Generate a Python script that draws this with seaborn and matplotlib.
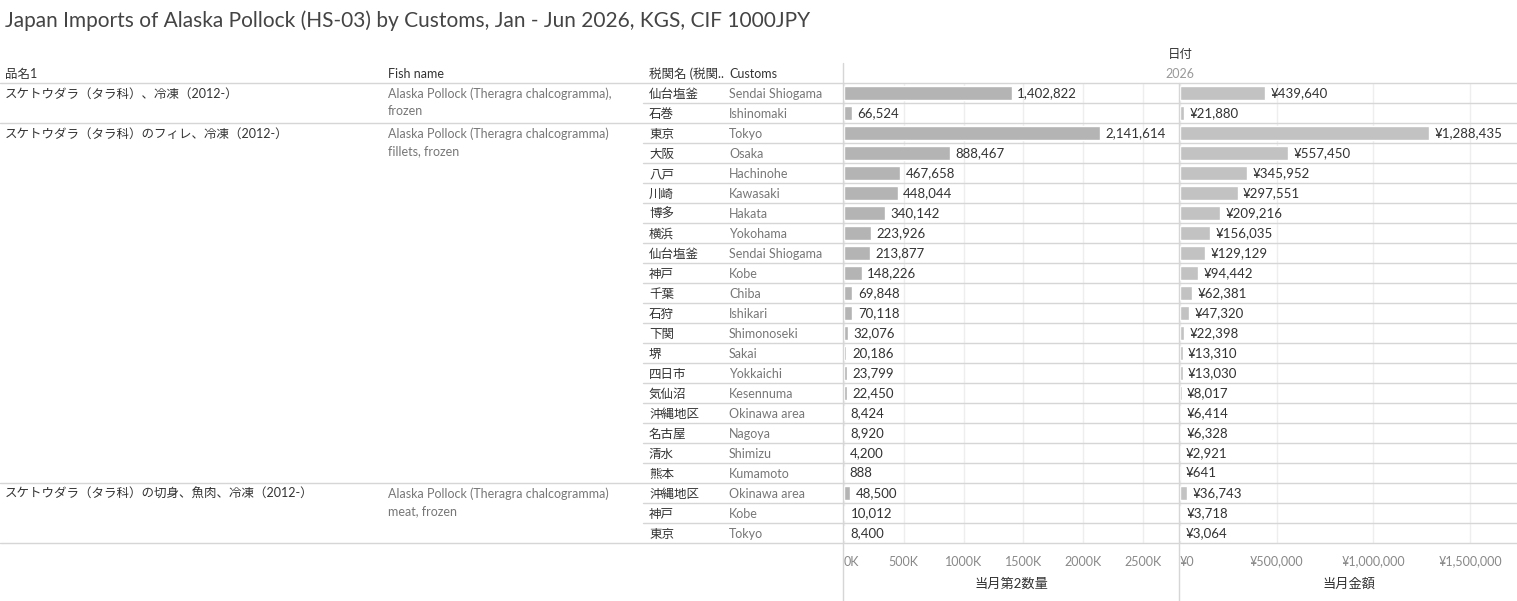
import matplotlib
matplotlib.use("Agg")
import matplotlib.pyplot as plt
from matplotlib.lines import Line2D
import pandas as pd
import seaborn as sns

# Daten
GROUP_ITEM = [
    "スケトウダラ（タラ科）、冷凍（2012-）",
    "スケトウダラ（タラ科）のフィレ、冷凍（2012-）",
    "スケトウダラ（タラ科）の切身、魚肉、冷凍（2012-）",
]
GROUP_FISH = [
    "Alaska Pollock (Theragra chalcogramma),\nfrozen",
    "Alaska Pollock (Theragra chalcogramma)\nfillets, frozen",
    "Alaska Pollock (Theragra chalcogramma)\nmeat, frozen",
]
GROUP_SIZE = [2, 18, 3]

CUSTOMS_JP = ["仙台塩釜", "石巻",
              "東京", "大阪", "八戸", "川崎", "博多", "横浜", "仙台塩釜", "神戸", "千葉",
              "石狩", "下関", "堺", "四日市", "気仙沼", "沖縄地区", "名古屋", "清水", "熊本",
              "沖縄地区", "神戸", "東京"]
CUSTOMS_EN = ["Sendai Shiogama", "Ishinomaki",
              "Tokyo", "Osaka", "Hachinohe", "Kawasaki", "Hakata", "Yokohama",
              "Sendai Shiogama", "Kobe", "Chiba", "Ishikari", "Shimonoseki", "Sakai",
              "Yokkaichi", "Kesennuma", "Okinawa area", "Nagoya", "Shimizu", "Kumamoto",
              "Okinawa area", "Kobe", "Tokyo"]
QTY = [1402822, 66524,
       2141614, 888467, 467658, 448044, 340142, 223926, 213877, 148226, 69848,
       70118, 32076, 20186, 23799, 22450, 8424, 8920, 4200, 888,
       48500, 10012, 8400]
VALUE = [439640, 21880,
         1288435, 557450, 345952, 297551, 209216, 156035, 129129, 94442, 62381,
         47320, 22398, 13310, 13030, 8017, 6414, 6328, 2921, 641,
         36743, 3718, 3064]

QTY_TICKS = [0, 500000, 1000000, 1500000, 2000000, 2500000]
QTY_TICK_LABELS = ["0K", "500K", "1000K", "1500K", "2000K", "2500K"]
VAL_TICKS = [0, 500000, 1000000, 1500000]
VAL_TICK_LABELS = ["¥0", "¥500,000", "¥1,000,000", "¥1,500,000"]

W, H = 1517, 601
ROW_TOP, ROW_H = 83, 20
N = len(QTY)

sns.set_style("white")
plt.rcParams["font.family"] = ["Lato", "Noto Sans CJK JP", "DejaVu Sans"]

DARK = "#333333"
MID = "#777777"
LINE = "#d6d6d6"


def fx(px):
    return px / W


def fy(py):
    return 1 - py / H


def hline(y, x0, x1, color=LINE):
    fig.add_artist(Line2D([fx(x0), fx(x1)], [fy(y), fy(y)], color=color, lw=1))


def vline(x, y0, y1, color=LINE):
    fig.add_artist(Line2D([fx(x), fx(x)], [fy(y0), fy(y1)], color=color, lw=1))


df = pd.DataFrame({
    "row": [f"r{i}" for i in range(N)],
    "qty": QTY,
    "value": VALUE,
})

fig = plt.figure(figsize=(W / 100, H / 100), dpi=100)
bottom = ROW_TOP + N * ROW_H
ax1 = fig.add_axes([fx(844), fy(bottom), fx(1179) - fx(844), fy(ROW_TOP) - fy(bottom)])
ax2 = fig.add_axes([fx(1180), fy(bottom), fx(1517) - fx(1180), fy(ROW_TOP) - fy(bottom)])

sns.barplot(data=df, x="qty", y="row", orient="h", color="#b4b4b4", width=0.7,
            saturation=1, ax=ax1, zorder=2)
sns.barplot(data=df, x="value", y="row", orient="h", color="#c2c2c2", width=0.7,
            saturation=1, ax=ax2, zorder=2)

ax1.bar_label(ax1.containers[0], labels=[f"{v:,}" for v in QTY], padding=4,
              fontsize=9.5, color=DARK)
ax2.bar_label(ax2.containers[0], labels=[f"¥{v:,}" for v in VALUE], padding=4,
              fontsize=9.5, color=DARK)

for ax, xmax, ticks, labels, title in [
    (ax1, 2802000, QTY_TICKS, QTY_TICK_LABELS, "当月第2数量"),
    (ax2, 1742000, VAL_TICKS, VAL_TICK_LABELS, "当月金額"),
]:
    ax.set_xlim(0, xmax)
    ax.set_ylim(N - 0.5, -0.5)
    ax.set_yticks([])
    ax.set_ylabel("")
    ax.set_xticks(ticks)
    ax.set_xticklabels(labels, fontsize=9, color="#888888")
    ax.tick_params(axis="x", length=0, pad=9)
    ax.xaxis.grid(True, color="#eeeeee", lw=1, zorder=0)
    ax.set_axisbelow(True)
    ax.set_xlabel(title, fontsize=9.5, color=DARK, labelpad=7)
    for s in ax.spines.values():
        s.set_visible(False)
    ax.patch.set_alpha(0)
    lbls = ax.get_xticklabels()
    lbls[0].set_horizontalalignment("left")

# Titel und Kopfzeilen
fig.text(fx(5), fy(21), "Japan Imports of Alaska Pollock (HS-03) by Customs, Jan - Jun 2026, KGS, CIF 1000JPY",
         fontsize=15, color="#444444", va="center", ha="left")
fig.text(fx(1180), fy(54), "日付", fontsize=9, color=DARK, ha="center", va="center")
fig.text(fx(1180), fy(74), "2026", fontsize=9, color="#999999", ha="center", va="center")
for x, t in [(5, "品名1"), (388, "Fish name"), (649, "税関名 (税関.."), (729, "Customs")]:
    fig.text(fx(x), fy(74), t, fontsize=9, color=DARK, ha="left", va="center")

# Tabellenzellen
for i in range(N):
    yc = ROW_TOP + i * ROW_H + ROW_H / 2 + 1
    fig.text(fx(649), fy(yc), CUSTOMS_JP[i], fontsize=9, color=DARK, ha="left", va="center")
    fig.text(fx(729), fy(yc), CUSTOMS_EN[i], fontsize=9, color=MID, ha="left", va="center")

start = 0
for item, fish, size in zip(GROUP_ITEM, GROUP_FISH, GROUP_SIZE):
    ytop = ROW_TOP + start * ROW_H
    fig.text(fx(5), fy(ytop + 11), item, fontsize=9, color=DARK, ha="left", va="center")
    fig.text(fx(388), fy(ytop + 4), fish, fontsize=9, color=MID, ha="left", va="top",
             linespacing=1.55)
    for k in range(1, size):
        hline(ytop + k * ROW_H, 643, W)
    start += size
    hline(ROW_TOP + start * ROW_H, 0, W)

hline(ROW_TOP, 0, W)
vline(843, 63, H)
vline(1179, ROW_TOP, H)

fig.savefig("out.png", dpi=100)
